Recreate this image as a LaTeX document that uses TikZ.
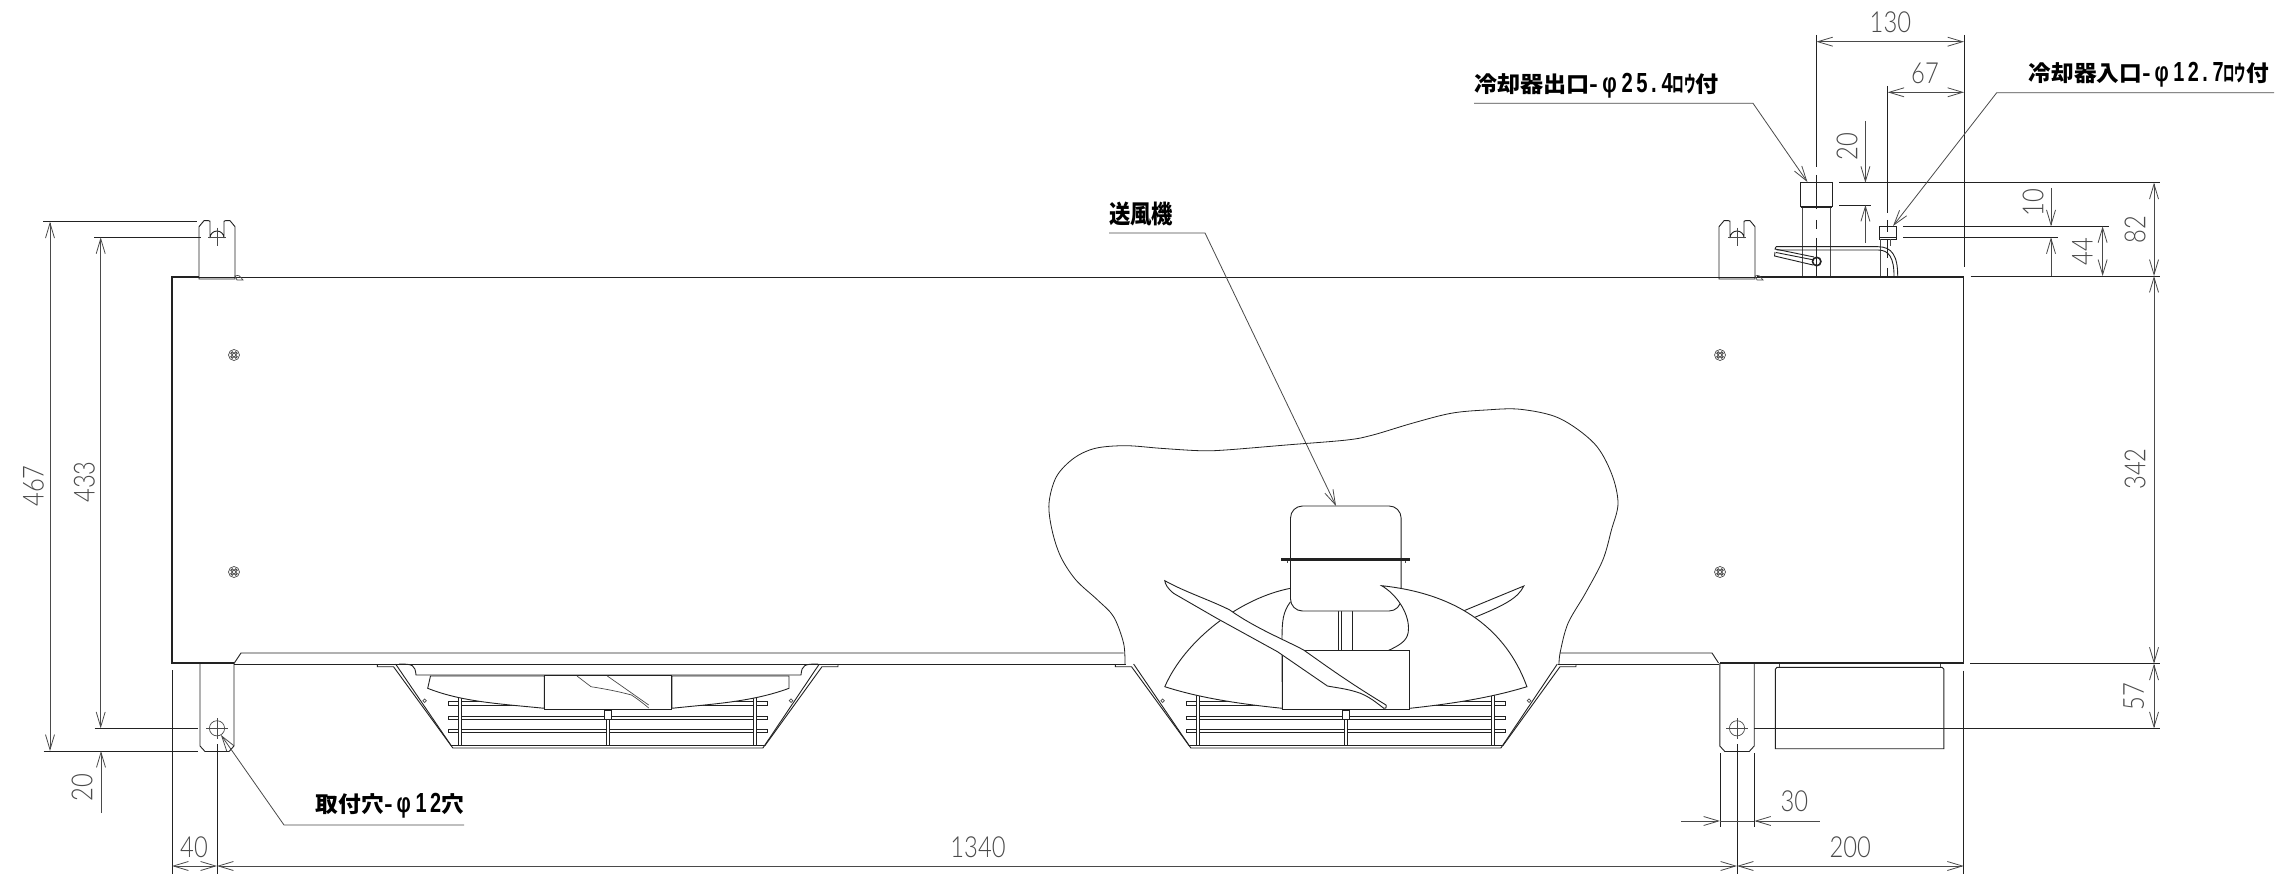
\documentclass[tikz,border=0pt]{standalone}
\usepackage{fontspec}
\usepackage{graphicx}
\usetikzlibrary{arrows.meta}
\newfontfamily\dimf[FakeStretch=.82]{Lato Light}
\newfontfamily\jpw{Noto Sans CJK JP}
\newfontfamily\jpn[FakeStretch=.5]{Noto Sans CJK JP}
\newfontfamily\digb[FakeStretch=.7,LetterSpace=12,Scale=1.25]{Liberation Sans}
\definecolor{dimc}{HTML}{4A4A4A}
\definecolor{inkc}{HTML}{222222}
\tikzset{
  dimline/.style={draw=dimc,line width=.8pt,>={Straight Barb[length=15pt,width=9pt]}},
  extline/.style={draw=inkc,line width=.8pt},
  outl/.style={draw=inkc,line width=.9pt},
  thin outl/.style={draw=dimc,line width=.7pt},
  heavy outl/.style={draw=inkc,line width=1.7pt},
  wfill/.style={outl,fill=white},
  dimlab/.style={inner sep=0pt,text=dimc,font=\dimf\fontsize{29}{29}\selectfont},
  jplab/.style={inner sep=0pt,text=black,font=\bfseries},
}
\newcommand{\rodset}{%
  \foreach \ry in {703.3,717.7,730.7}{
    \draw[outl,fill=white,line width=.8pt] (1186.5,\ry-1.7) rectangle (1505.2,\ry+1.7);
  }
  \foreach \rx/\ryt in {1198.2/695,1345.6/710,1493/695}{
    \draw[outl,fill=white,line width=.7pt] (\rx-1.5,\ryt) rectangle (\rx+1.5,745);
  }
  \draw[outl,fill=white] (1342.6,710) rectangle (1349,719);
}
\newcommand{\funnel}{%
  \draw[outl] (1115.3,664) -- (1115.3,666.7) -- (1131.5,666.7) -- (1189,745.5) -- (1503,745.5) -- (1560,666.7) -- (1576,666.7) -- (1576,664);
  \draw[outl] (1133.6,664) -- (1190.8,748) -- (1500.9,748) -- (1557.3,664);
  \draw[thin outl] (1162.6,700.7) circle (1.8) (1529,700.7) circle (1.8);
}
\begin{document}
\begin{tikzpicture}[x=1pt,y=-1pt]
\useasboundingbox (0,0) rectangle (2282,874);
\fill[white] (0,0) rectangle (2282,874);

% body
\draw[heavy outl] (234,663) -- (172,663) -- (172,277) -- (199,277);
\draw[outl] (199,277) -- (1963.5,277);
\draw[heavy outl] (1757,276.5) -- (1963.5,276.5) -- (1963.5,330);
\draw[outl] (1963.5,330) -- (1963.5,470);
\draw[heavy outl] (1963.5,470) -- (1963.5,663) -- (1720,663);
% strip
\draw[outl] (234,663.5) -- (241,653) -- (1123.6,653);
\draw[outl] (234,664) -- (1126,664);
\draw[outl] (1559.5,653) -- (1712,653) -- (1718.5,663);
\draw[outl] (1558,664) -- (1718.5,664);

% top brackets
\foreach \bx in {217,1737}{
  \begin{scope}[xshift=\bx pt]
    \draw[outl] (-18,279) -- (-18,226.7) -- (-13,220.7) -- (-8.5,220.7) .. controls (-7,220.7) .. (-7,224) -- (-7,238) arc[start angle=180,end angle=0,x radius=7,y radius=-7] -- (7,224) .. controls (7,220.7) .. (8.5,220.7) -- (13,220.7) -- (18,226.7) -- (18,279) -- cycle;
    \draw[thin outl] (0,227.7) -- (0,245.7) (-9,237.3) -- (9,237.3);
    \draw[thin outl] (18,276) .. controls (22,275) .. (26,280) -- (20,280) -- cycle;
  \end{scope}
}
% bottom brackets
\foreach \bx/\bw in {217/17,1737/17.2}{
  \begin{scope}[xshift=\bx pt]
    \draw[outl] (-\bw,663) -- (-\bw,746) -- (-\bw+5,751.5) -- (\bw-5,751.5) -- (\bw,746) -- (\bw,663);
    \draw[thin outl] (0,728.3) circle (7.6);
    \draw[thin outl] (0,718) -- (0,739) (-11,728.3) -- (11,728.3);
  \end{scope}
}
% bolts
\foreach \px/\py in {234/355,234/572,1720/355,1720/572}{
  \draw[thin outl] (\px,\py) circle (5.5);
  \foreach \ang in {45,135,225,315}{
    \draw[thin outl,line width=.9pt] (\px,\py) ++(\ang:2.6) circle (1.4);
  }
}
% junction box
\draw[outl] (1775.4,748.7) -- (1775.4,669) -- (1777,667.3) -- (1942,667.3) -- (1943.8,669) -- (1943.8,748.7) -- cycle;
\draw[thin outl] (1779.8,664) -- (1779.8,667.3) (1940,664) -- (1940,667.3);

% fan 1
\begin{scope}[xshift=-738pt]
  \rodset
  \funnel
  \draw[outl] (1137,664) .. controls (1151,664) and (1153,665) .. (1154,675) -- (1539,675) .. controls (1540,665) and (1542,664) .. (1556,664);
  \draw[wfill] (1168.5,676) -- (1165.7,688.3) .. controls (1200,702) and (1240,704) .. (1282.3,708.3) -- (1282.3,676) -- cycle;
  \draw[wfill] (1527,676) -- (1527,688.3) .. controls (1490,702) and (1450,704) .. (1409.8,708.3) -- (1409.8,676) -- cycle;
  \draw[wfill] (1282.2,675) rectangle (1409.6,709.3);
  \draw[thin outl] (1315,676) -- (1329,686.7) .. controls (1350,690) and (1362,693) .. (1369.5,695) .. controls (1377,700) and (1382,704) .. (1386.7,708);
  \draw[thin outl] (1345.3,676) -- (1386.7,705);
\end{scope}

% fan 2
\rodset
\funnel
% cut-away
\draw[outl,line width=.8pt] plot[smooth,tension=.55] coordinates {(1124.9,664) (1123.6,643.3) (1113.6,616.7) (1097.6,600) (1075.9,580) (1060.7,556.7) (1052,530) (1049,503.3) (1056.4,476.7) (1073.7,458.3) (1095.4,448.3) (1125.8,445.7) (1160.5,448.3) (1199.5,450.7) (1225.5,450) (1286.2,445) (1346.9,440) (1372.9,435) (1412,423.3) (1451,413.3) (1485.7,410) (1520.4,409.3) (1559.4,418.3) (1594.1,443.3) (1611.4,473.3) (1618,503.3) (1611.4,530) (1602.8,560) (1585.4,593.3) (1568,623.3) (1560.3,651.7) (1559,664)};
% back sliver blade
\draw[outl] (1464,610.7) -- (1523.8,586) .. controls (1518,598) and (1505,605) .. (1474.8,617.3);
% back left disc
\fill[white] (1290.5,588.3) .. controls (1240,598) and (1185,640) .. (1164.8,686.7) .. controls (1200,698) and (1240,704) .. (1282.3,708.3) -- cycle;
\draw[outl] (1290.5,588.3) .. controls (1240,598) and (1185,640) .. (1164.8,686.7) .. controls (1200,698) and (1240,704) .. (1282.3,708.3);
% hub rear
\draw[outl] (1290.5,601.7) .. controls (1283,612) and (1282,620) .. (1282,640) -- (1282.3,709.3);
\draw[outl] (1338.5,611) -- (1338.5,650.7) (1341.5,611) -- (1341.5,650.7) (1352,611) -- (1352,650.7);
% motor
\draw[wfill,rounded corners=12pt] (1290.5,506) rectangle (1401.1,611);
\draw[heavy outl,line width=2.4pt] (1281,559.5) -- (1410.2,559.5);
\draw[thin outl] (1287,561) -- (1287,563) (1405,561) -- (1405,563);
% right blade
\fill[white] (1409.8,708.3) .. controls (1450,704) and (1490,698) .. (1526.9,686.7) .. controls (1510,640) and (1470,595) .. (1381.6,585.7) .. controls (1396,594) and (1408.5,612) .. (1408.5,628.3) -- (1408.5,700) -- cycle;
\draw[outl] (1409.8,708.3) .. controls (1450,704) and (1490,698) .. (1526.9,686.7) .. controls (1510,640) and (1470,595) .. (1381.6,585.7) .. controls (1396,594) and (1408.5,612) .. (1408.5,628.3) .. controls (1408.5,640) and (1402,644) .. (1388,650.7);
% hub box
\draw[wfill] (1282.3,650.7) rectangle (1409,709.3);
% front blade
\draw[wfill] (1164.8,580.7) .. controls (1185,592) and (1210,600) .. (1229.8,610) .. controls (1255,628) and (1285,640) .. (1303.6,650) .. controls (1325,665) and (1345,680) .. (1386,705) .. controls (1387,708) and (1385,709) .. (1383.8,708.3) .. controls (1378,704) and (1368,695) .. (1355.6,691.7) .. controls (1345,688.5) and (1335,687.5) .. (1327.4,686) -- (1277.5,651.7) -- (1216.8,618.3) -- (1173.5,593.3) .. controls (1168,589) and (1165,584) .. (1164.8,580.7) -- cycle;

% pipes
\draw[outl] (1800.7,182.7) rectangle (1832.3,206);
\draw[outl] (1800.7,207.5) -- (1832.3,207.5);
\draw[thin outl] (1802.3,208) -- (1802.3,276) (1830.7,208) -- (1830.7,276);
\draw[outl] (1879.3,226) rectangle (1896.7,239.3);
\draw[outl] (1879.3,237.5) -- (1896.7,237.5);
\draw[thin outl] (1880.7,239.3) -- (1880.7,276) (1890,239.3) -- (1890,246);
\draw[outl] (1776,246.7) -- (1878,246.7) .. controls (1892,246.7) and (1897.7,256) .. (1897.7,276);
\draw[outl] (1776.7,250) -- (1878,250) .. controls (1889,250) and (1894,258) .. (1894,276);
\draw[outl] (1776,246.7) -- (1775,249) -- (1814,257);
\draw[outl] (1775,252) -- (1774.5,256) -- (1813,265) ;
\draw[outl] (1776,252.5) -- (1814,260);
\draw[inkc,line width=1.6pt] (1816.7,261.5) circle (4.2);

% dimension extension lines (top right)
\draw[extline] (1816.3,35) -- (1816.3,167) (1816.3,175) -- (1816.3,209) (1816.3,220) -- (1816.3,229) (1816.3,238) -- (1816.3,276);
\draw[extline] (1887.7,86) -- (1887.7,213) (1887.7,220) -- (1887.7,232) (1887.7,240) -- (1887.7,258) (1887.7,268) -- (1887.7,276);
\draw[extline] (1964,35) -- (1964,267);
\draw[extline] (1839.3,182.7) -- (2160,182.7);
\draw[extline] (1839.3,205) -- (1871,205);
\draw[extline] (1903.4,226.3) -- (2109,226.3);
\draw[extline] (1903.4,237.3) -- (2058,237.3);
\draw[extline] (1970.6,276) -- (2160,276);
\draw[extline] (1970,663.7) -- (2160,663.7);
\draw[extline] (1754.4,728.3) -- (2160,728.3);

\draw[dimline,<->] (1816.3,41.7) -- (1964,41.7);
\draw[dimline,<->] (1887.7,92.3) -- (1964,92.3);
\draw[dimline,->] (1865.4,121) -- (1865.4,182.7);
\draw[dimline,->] (1865.4,243) -- (1865.4,205);
\draw[dimline,->] (2051,188) -- (2051,226.3);
\draw[dimline,->] (2051,276) -- (2051,237.3);
\draw[dimline,<->] (2102.6,226.3) -- (2102.6,276);
\draw[dimline,<->] (2154,182.7) -- (2154,276);
\draw[dimline,<->] (2154,276) -- (2154,663.7);
\draw[dimline,<->] (2154,663.7) -- (2154,728.3);

% bottom dims
\draw[extline] (172,670) -- (172,874);
\draw[extline] (217,744) -- (217,874);
\draw[extline] (1737,744) -- (1737,874);
\draw[extline] (1963.7,670.7) -- (1963.7,874);
\draw[extline] (1720,753) -- (1720,827) (1754.4,753) -- (1754.4,827);
\draw[dimline,<->] (172,866) -- (217,866);
\draw[dimline,<->] (217,866) -- (1737,866);
\draw[dimline,<->] (1737,866) -- (1963.7,866);
\draw[dimline,->] (1681.4,821) -- (1720,821);
\draw[dimline,->] (1819.7,821) -- (1754.4,821);
\draw[dimline] (1720,821) -- (1754.4,821);

% left dims
\draw[extline] (43,221.7) -- (197,221.7);
\draw[extline] (94,237.3) -- (201,237.3);
\draw[extline] (43.6,751) -- (198,751);
\draw[extline] (94.7,728.3) -- (198,728.3);
\draw[dimline,<->] (50,221.7) -- (50,751);
\draw[dimline,<->] (100.7,237.3) -- (100.7,728.3);
\draw[dimline,->] (101,813) -- (101,751);

% dimension labels
\node[dimlab] (d130) at (1890.4,22.7) {130};
\node[dimlab] (d67) at (1925,73.3) {67};
\node[dimlab,rotate=90] (d20a) at (1847,146.7) {20};
\node[dimlab,rotate=90] (d10) at (2033,203) {10};
\node[dimlab,rotate=90] (d44) at (2082.3,251.7) {44};
\node[dimlab,rotate=90] (d82) at (2135,230) {82};
\node[dimlab,rotate=90] (d342) at (2135,469) {342};
\node[dimlab,rotate=90] (d57) at (2133.7,696.7) {57};
\node[dimlab] (d30) at (1794.3,801.7) {30};
\node[dimlab] (d200) at (1850.3,847.3) {200};
\node[dimlab] (d1340) at (978,847) {1340};
\node[dimlab] (d40) at (194,847) {40};
\node[dimlab,rotate=90] (d467) at (33.5,486) {467};
\node[dimlab,rotate=90] (d433) at (84.4,482) {433};
\node[dimlab,rotate=90] (d20b) at (82,787.7) {20};

% leader labels
\node[jplab] (lout) at (1596.5,86) {\resizebox*{245pt}{25pt}{\jpw\bfseries 冷却器出口-\,{\digb\bfseries φ\,25.\,4}{\jpn\bfseries ロウ}付}};
\node[jplab] (lin) at (2148.8,75) {\resizebox*{240pt}{25pt}{\jpw\bfseries 冷却器入口-\,{\digb\bfseries φ\,12.\,7}{\jpn\bfseries ロウ}付}};
\node[jplab] (lfan) at (1141,214) {\resizebox*{64pt}{24pt}{\jpw\bfseries 送風機}};
\node[jplab] (lhole) at (390,805.7) {\resizebox*{148pt}{25pt}{\jpw\bfseries 取付穴-\,{\digb\bfseries φ\,12}穴}};

\coordinate (outA) at (1474,103.3);
\coordinate (outB) at (1753,103.3);
\coordinate (outT) at (1807.4,182);
\coordinate (inA) at (2274,92.7);
\coordinate (inB) at (1996.7,92.7);
\coordinate (inT) at (1893,226);
\coordinate (fanA) at (1109,233);
\coordinate (fanB) at (1205,233);
\coordinate (fanT) at (1336,506);
\coordinate (holeA) at (464,825);
\coordinate (holeB) at (284,825);
\coordinate (holeT) at (221,735);
\draw[dimline,->] (outA) -- (outB) -- (outT);
\draw[dimline,->] (inA) -- (inB) -- (inT);
\draw[dimline,->] (fanA) -- (fanB) -- (fanT);
\draw[dimline,->] (holeA) -- (holeB) -- (holeT);
\end{tikzpicture}
\end{document}
